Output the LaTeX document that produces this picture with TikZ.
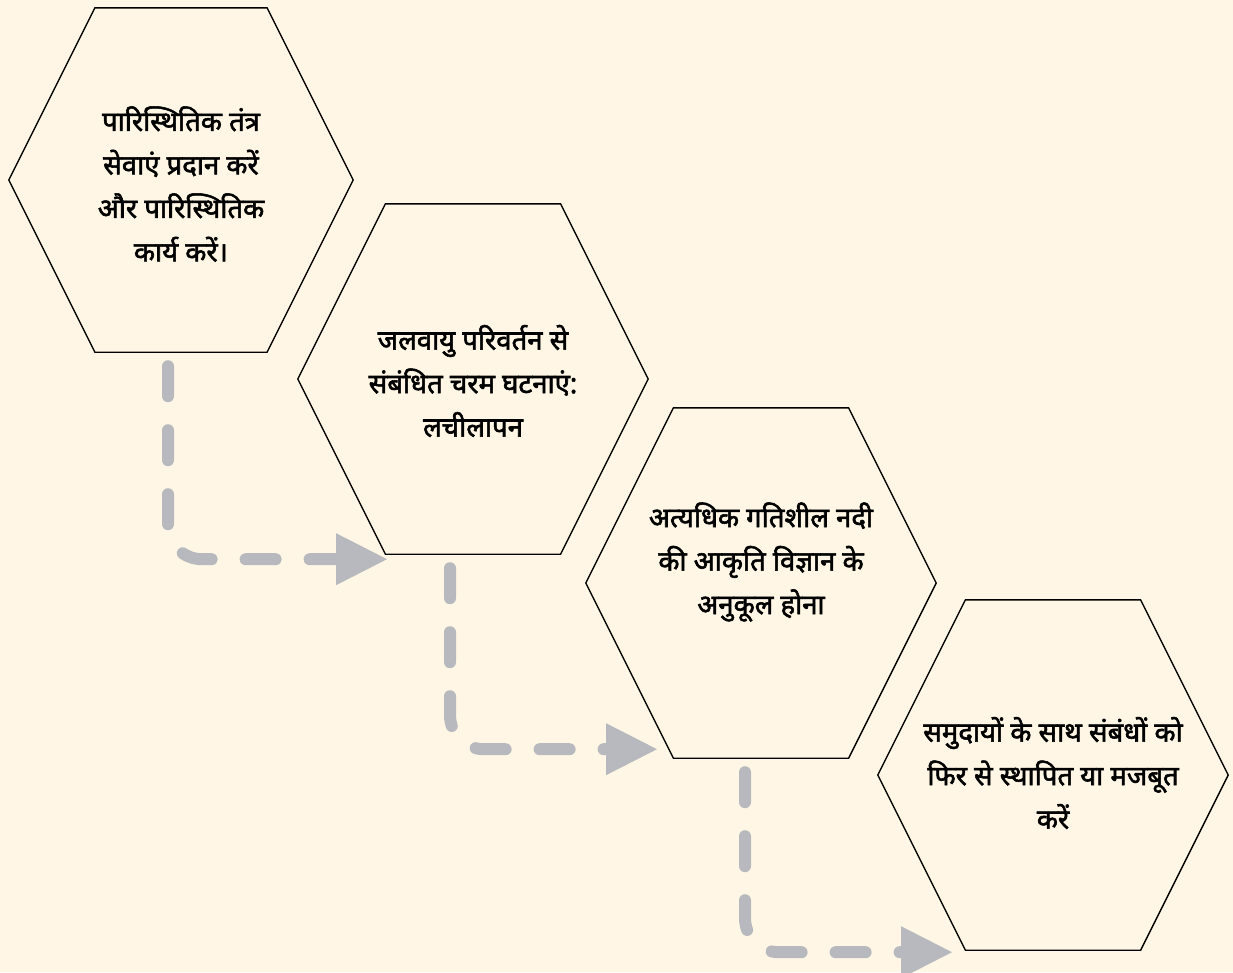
\documentclass[tikz,border=0pt]{standalone}
\usepackage{fontspec}
\newfontfamily\devafont[Script=Devanagari, FakeBold=2]{Noto Sans}
\usepackage{tikz}
\usetikzlibrary{arrows.meta,calc}

\definecolor{paper}{HTML}{FFF6E5}
\definecolor{linkgray}{HTML}{B8B9BE}

\tikzset{
  hexbody/.style={minimum width=350pt, minimum height=350pt, inner sep=0pt},
  hexline/.style={draw=black, line width=1.4pt},
  hextext/.style={align=center, font=\devafont\fontsize{27.5}{43.5}\selectfont},
  flowline/.style={draw=linkgray, line width=12pt, line cap=round,
    dash pattern=on 30pt off 34pt, rounded corners=34pt,
    -{Triangle[length=51pt,width=52pt,line width=0pt]}},
}

\newcommand{\hexframe}[1]{%
  \draw[hexline] (#1.west) -- ($(#1.north west)!0.5!(#1.north)$)
    -- ($(#1.north)!0.5!(#1.north east)$) -- (#1.east)
    -- ($(#1.south east)!0.5!(#1.south)$) -- ($(#1.south)!0.5!(#1.south west)$) -- cycle;}

\begin{document}
\begin{tikzpicture}[x=1pt, y=-1pt]
        % Background
        \fill[paper] (0,0) rectangle (1233,972);
        \useasboundingbox (0,0) rectangle (1233,972);

        % Hexagons
        \node[hexbody, minimum width=344pt, minimum height=344pt] (ecosys) at (181, 180) {};
        \node[hexbody] (climate) at (473, 379) {};
        \node[hexbody] (river) at (761, 583) {};
        \node[hexbody] (bonds) at (1053, 775) {};

        \foreach \h in {ecosys, climate, river, bonds} {\hexframe{\h}}

        % Labels
        \node[hextext] (ecosystxt) at ([yshift=-4pt]ecosys) {पारिस्थितिक तंत्र\\ सेवाएं प्रदान करें\\ और पारिस्थितिक\\ कार्य करें।};
        \node[hextext] (climatetxt) at ([yshift=-2pt]climate) {जलवायु परिवर्तन से\\ संबंधित चरम घटनाएं:\\ लचीलापन};
        \node[hextext] (rivertxt) at ([yshift=21pt]river) {अत्यधिक गतिशील नदी\\ की आकृति विज्ञान के\\ अनुकूल होना};
        \node[hextext] (bondstxt) at ([yshift=2pt]bonds) {समुदायों के साथ संबंधों को\\ फिर से स्थापित या मजबूत\\ करें};

        % Arrows
        \draw[flowline] ([xshift=-13pt,yshift=-14pt]ecosys.south) |- ([xshift=-86pt,yshift=-5pt]climate.south);
        \draw[flowline] ([xshift=-23pt,yshift=-14pt]climate.south) |- ([xshift=-104pt,yshift=9pt]river.south);
        \draw[flowline] ([xshift=-16pt,yshift=-14pt]river.south) |- ([xshift=-101pt,yshift=-2pt]bonds.south);
\end{tikzpicture}
\end{document}
